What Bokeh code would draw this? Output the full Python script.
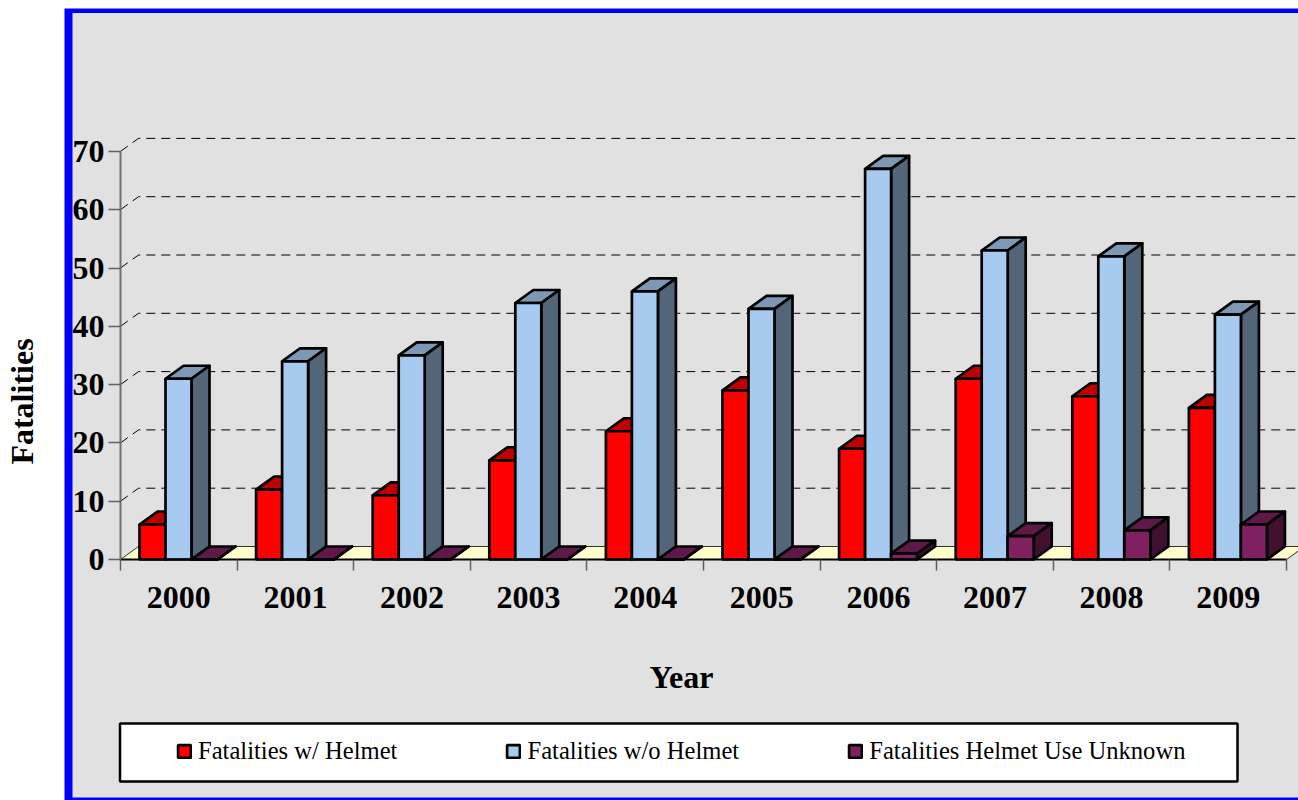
from bokeh.plotting import figure
from bokeh.models import BoxAnnotation, Label, Legend, LegendItem, FixedTicker, Range1d
from bokeh.embed import file_html
from bokeh.resources import INLINE

years = ["2000","2001","2002","2003","2004","2005","2006","2007","2008","2009"]
with_helmet = [6,12,11,17,22,29,19,31,28,26]
without_helmet = [31,34,35,44,46,43,67,53,52,42]
unknown = [0,0,0,0,0,0,1,4,5,6]
series_names = ["Fatalities w/ Helmet","Fatalities w/o Helmet","Fatalities Helmet Use Unknown"]
y_ticks = [0,10,20,30,40,50,60,70]

# layout constants (page pixels)
X0, CAT = 120.0, 116.6
Y0, UNIT = 559.0, 5.83
W, H = 1298, 800
def dx(px): return (px - X0) / CAT
def dy(py): return (Y0 - py) / UNIT
DEPTH_X = 18 / CAT
DEPTH_Y = 13 / UNIT
BAR = 26 / CAT
START = 19 / CAT
FONT = "Liberation Serif"
LW = 2.7
n = len(years)

p = figure(width=W, height=H, output_backend="svg", toolbar_location=None,
           x_range=Range1d(dx(0), dx(W)), y_range=Range1d(dy(H), dy(0)),
           min_border=0, background_fill_color="white", border_fill_color="white", outline_line_color=None)
p.grid.visible = False

# panel
p.quad(left=[dx(64)], right=[dx(W)], top=[dy(8)], bottom=[dy(H)], fill_color="#0000FF", line_color=None, level="underlay")
p.quad(left=[dx(72)], right=[dx(W)], top=[dy(12.5)], bottom=[dy(H - 3)], fill_color="#E1E1E1", line_color=None, level="underlay")

# floor
p.patch([0, DEPTH_X, n + DEPTH_X, n], [0, DEPTH_Y, DEPTH_Y, 0], fill_color="#FFFFCC", line_color="#303030", line_width=1)
# gridlines on the back wall
gt = y_ticks[1:]
p.multi_line([[0, DEPTH_X, n + DEPTH_X] for _ in gt], [[t, t + DEPTH_Y, t + DEPTH_Y] for t in gt],
             line_color="black", line_width=1, line_dash="9 6")

styles = [("#FF0000", "#BF0000", "#800000"), ("#A6CAF0", "#7C98B4", "#536578"), ("#802060", "#601848", "#401030")]
renderers = []
for s, (vals, (front, top, side)) in enumerate(zip([with_helmet, without_helmet, unknown], styles)):
    lefts = [i + START + s * BAR for i in range(n)]
    rights = [l + BAR for l in lefts]
    p.patches([[l, r, r + DEPTH_X, l + DEPTH_X] for l, r in zip(lefts, rights)],
              [[v, v, v + DEPTH_Y, v + DEPTH_Y] for v in vals],
              fill_color=top, line_color="black", line_width=LW, line_join="round")
    p.patches([[r, r + DEPTH_X, r + DEPTH_X, r] for r in rights],
              [[0, DEPTH_Y, v + DEPTH_Y, v] for v in vals],
              fill_color=side, line_color="black", line_width=LW, line_join="round")
    r = p.vbar(x=[(l + rr) / 2 for l, rr in zip(lefts, rights)], width=BAR, bottom=0, top=vals,
               fill_color=front, line_color="black", line_width=LW)
    renderers.append(r)

# axes sit inside the frame, at the zero lines
xa = p.xaxis[0]
xa.fixed_location = 0
xa.ticker = FixedTicker(ticks=[i + 0.5 for i in range(n)], minor_ticks=list(range(n + 1)))
xa.major_label_overrides = {i + 0.5: y for i, y in enumerate(years)}
xa.major_tick_in = 0; xa.major_tick_out = 0
xa.minor_tick_in = 0; xa.minor_tick_out = 11
xa.minor_tick_line_color = "#606060"; xa.minor_tick_line_width = 1.5
xa.axis_line_color = "black"; xa.axis_line_width = 2
xa.bounds = (0, n)
xa.major_label_standoff = 16
xa.major_label_text_font = FONT; xa.major_label_text_font_size = "32px"
xa.major_label_text_font_style = "bold"; xa.major_label_text_color = "black"

ya = p.yaxis[0]
ya.fixed_location = 0
ya.ticker = FixedTicker(ticks=y_ticks)
ya.minor_tick_line_color = None
ya.major_tick_in = 0; ya.major_tick_out = 12
ya.major_tick_line_color = "#606060"; ya.major_tick_line_width = 1.5
ya.axis_line_color = "#707070"; ya.axis_line_width = 2
ya.bounds = (0, 70)
ya.major_label_standoff = 4
ya.major_label_text_font = FONT; ya.major_label_text_font_size = "32px"
ya.major_label_text_font_style = "bold"; ya.major_label_text_color = "black"

# axis titles
p.add_layout(Label(x=dx(21), y=dy(401), text="Fatalities", angle=90, angle_units="deg",
                   text_font=FONT, text_font_size="32px", text_font_style="bold", text_color="black",
                   text_align="center", text_baseline="middle"))
p.add_layout(Label(x=dx(681), y=dy(676), text="Year",
                   text_font=FONT, text_font_size="32px", text_font_style="bold", text_color="black",
                   text_align="center", text_baseline="middle"))

# legend
p.add_layout(BoxAnnotation(left=dx(119.5), right=dx(1237), top=dy(723), bottom=dy(781), fill_color="white", fill_alpha=1,
                           line_color="black", line_alpha=1, line_width=2.5))
legend = Legend(items=[LegendItem(label=nm, renderers=[r]) for nm, r in zip(series_names, renderers)],
                orientation="horizontal", spacing=108, padding=0, margin=0, glyph_width=16, glyph_height=16,
                label_standoff=6, location=(176, 35), border_line_color=None, background_fill_color=None,
                background_fill_alpha=0, label_text_font=FONT, label_text_font_size="24.6px", label_text_color="black",
                label_height=20)
p.add_layout(legend)

open("out.html", "w").write(file_html(p, INLINE))
